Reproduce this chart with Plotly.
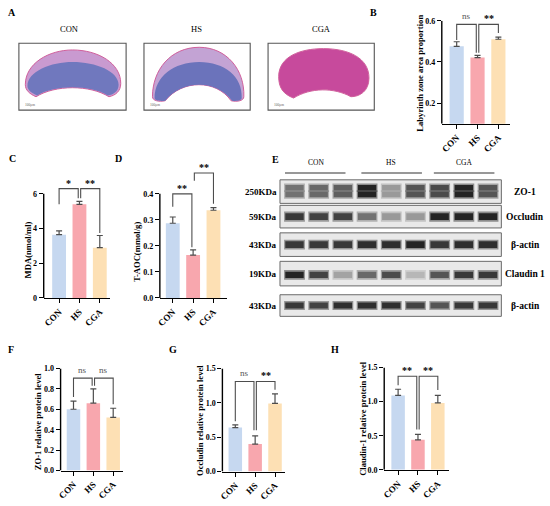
import plotly.graph_objects as go

W, H = 550, 506

groups = ["CON", "HS", "CGA"]
bar_colors = ["#c6d8f0", "#f8a7ae", "#fde0b4"]

# B  labyrinth zone area proportion
lab_mean = [0.476, 0.421, 0.510]
lab_err = [0.022, 0.011, 0.010]
# C  MDA (nmol/ml)
mda_mean = [3.65, 5.40, 2.90]
mda_err = [0.22, 0.17, 0.70]
# D  T-AOC (mmol/g)
taoc_mean = [0.287, 0.165, 0.337]
taoc_err = [0.024, 0.020, 0.010]
# F G H  relative protein level
zo1_mean = [0.60, 0.66, 0.52]
zo1_err = [0.08, 0.14, 0.09]
occ_mean = [0.64, 0.40, 0.99]
occ_err = [0.04, 0.12, 0.14]
cld_mean = [1.09, 0.44, 0.98]
cld_err = [0.09, 0.08, 0.11]

# western blot, band darkness per lane (3 lanes per group)
lanes = [1, 2, 3, 4, 5, 6, 7, 8, 9]
blot_names = ["ZO-1", "Occludin", "β-actin", "Claudin 1", "β-actin"]
blot_kda = ["250KDa", "59KDa", "43KDa", "19KDa", "43KDa"]
zo1_band = [0.55, 0.6, 0.65, 0.95, 0.35, 0.7, 0.75, 0.95, 0.7]
occ_band = [0.85, 0.8, 0.8, 0.55, 0.35, 0.35, 0.95, 0.95, 0.95]
actin1_band = [0.85, 0.85, 0.85, 0.9, 0.9, 0.95, 0.85, 0.9, 0.9]
cld_band = [0.95, 0.8, 0.3, 0.6, 0.75, 0.2, 0.7, 0.85, 0.85]
actin2_band = [0.85, 0.8, 0.9, 0.9, 0.9, 0.8, 0.7, 0.85, 0.85]

SERIF = "Liberation Serif"


def px(x):
    return x / W


def py(y):
    return 1 - y / H


def ax(n):
    s = "" if n == 1 else str(n)
    return "x" + s, "y" + s, "xaxis" + s, "yaxis" + s


fig = go.Figure()
shapes = []
annos = []
layout = {}


def text(x, y, s, size=8, bold=True, color="black", xanchor="center", yanchor="middle", angle=0):
    annos.append(dict(
        x=px(x), y=py(y), xref="paper", yref="paper", text=s, showarrow=False,
        xanchor=xanchor, yanchor=yanchor, textangle=angle,
        font=dict(family=SERIF, size=size, color=color, weight="bold" if bold else "normal"),
    ))


# ---- bar panels ----
panels = [
    dict(n=1, m=lab_mean, e=lab_err, xl=441, xr=510, c0=456, p=21, yb=122, yt=17,
         lo=0.1, top=0.6, hi=0.6, ticks=[0.2, 0.4, 0.6], fmt="%.1f",
         title="Labyrinth zone area proportion", tx=419, ty=70,
         br=[(0, 1, 0.582, 0.506, 0.445, "ns"), (1, 2, 0.582, 0.445, 0.54, "**")]),
    dict(n=2, m=mda_mean, e=mda_err, xl=40, xr=107, c0=55.5, p=20.5, yb=299.3, yt=193.3,
         lo=0, top=6, hi=6.7, ticks=[0, 2, 4, 6], fmt="%d",
         title="MDA(nmol/ml)", tx=24, ty=250,
         br=[(0, 1, 6.3, 5.4, 5.75, "*"), (1, 2, 6.3, 5.75, 3.75, "**")]),
    dict(n=3, m=taoc_mean, e=taoc_err, xl=157, xr=225, c0=170, p=20.5, yb=299.3, yt=193.3,
         lo=0, top=0.4, hi=0.5, ticks=[0, 0.1, 0.2, 0.3, 0.4], fmt="%.1f",
         title="T-AOC(mmol/g)", tx=133.5, ty=253,
         br=[(0, 1, 0.4, 0.35, 0.195, "**"), (1, 2, 0.48, 0.45, 0.362, "**")]),
    dict(n=4, m=zo1_mean, e=zo1_err, xl=57, xr=120, c0=70, p=20, yb=475, yt=371,
         lo=0, top=1.0, hi=1.0, ticks=[0, 0.2, 0.4, 0.6, 0.8, 1.0], fmt="%.1f",
         title="ZO-1 relative protein level", tx=35, ty=425,
         br=[(0, 1, 0.905, 0.72, 0.83, "ns"), (1, 2, 0.905, 0.83, 0.65, "ns")]),
    dict(n=5, m=occ_mean, e=occ_err, xl=220, xr=283, c0=233, p=20, yb=476, yt=371,
         lo=0, top=1.5, hi=1.5, ticks=[0, 0.5, 1.0, 1.5], fmt="%.1f",
         title="Occludin relative protein level", tx=198, ty=424,
         br=[(0, 1, 1.31, 0.73, 0.6, "ns"), (1, 2, 1.31, 0.6, 1.19, "**")]),
    dict(n=6, m=cld_mean, e=cld_err, xl=383, xr=448, c0=397, p=20, yb=474.3, yt=370,
         lo=0, top=1.5, hi=1.5, ticks=[0, 0.5, 1.0, 1.5], fmt="%.1f",
         title="Claudin-1 relative protein level", tx=362, ty=422,
         br=[(0, 1, 1.37, 1.24, 0.59, "**"), (1, 2, 1.37, 0.59, 1.17, "**")]),
]

for P in panels:
    xa, ya, xk, yk = ax(P["n"])
    ppu = (P["yb"] - P["yt"]) / (P["top"] - P["lo"])
    ytop_px = P["yb"] - (P["hi"] - P["lo"]) * ppu
    xr0 = -(P["c0"] - P["xl"]) / P["p"]
    xr1 = (P["xr"] - P["c0"]) / P["p"]
    layout[xk] = dict(
        domain=[px(P["xl"]), px(P["xr"])], anchor=ya, range=[xr0, xr1],
        tickvals=[0, 1, 2], ticktext=groups, tickangle=-45, showline=True,
        linecolor="black", linewidth=1.4, ticks="outside", ticklen=4, tickwidth=1.3,
        tickcolor="black", showgrid=False, zeroline=False, fixedrange=True,
        tickfont=dict(family=SERIF, size=9, color="black", weight="bold"),
    )
    layout[yk] = dict(
        domain=[py(P["yb"]), py(ytop_px)], anchor=xa, range=[P["lo"], P["hi"]],
        tickvals=P["ticks"], ticktext=[P["fmt"] % t for t in P["ticks"]],
        showline=False, ticks="outside", ticklen=4, tickwidth=1.3, tickcolor="black",
        showgrid=False, zeroline=False, fixedrange=True,
        tickfont=dict(family=SERIF, size=8, color="black", weight="bold"),
    )
    fig.add_trace(go.Bar(
        x=[0, 1, 2], y=P["m"], width=0.68, marker=dict(color=bar_colors, line=dict(width=0)),
        error_y=dict(type="data", symmetric=False, array=P["e"], arrayminus=[0, 0, 0],
                     color="#4d4d4d", thickness=1.2, width=3),
        xaxis=xa, yaxis=ya, showlegend=False, hoverinfo="skip",
    ))
    # y axis line only up to the top tick
    shapes.append(dict(type="line", xref=f"{xa} domain", yref=ya, x0=0, x1=0,
                       y0=P["lo"], y1=P["top"], line=dict(color="black", width=1.4)))
    for i, j, top, li, lj, lab in P["br"]:
        gap = 0.06
        a = i + (gap if i == 1 else 0)
        b = j - (gap if j == 1 else 0)
        fig.add_trace(go.Scatter(
            x=[a, a, b, b], y=[li, top, top, lj], mode="lines",
            line=dict(color="#4d4d4d", width=1.1), xaxis=xa, yaxis=ya,
            showlegend=False, hoverinfo="skip",
        ))
        ns = lab == "ns"
        annos.append(dict(
            x=(a + b) / 2, y=top, xref=xa, yref=ya, text=lab, showarrow=False,
            yanchor="bottom", yshift=1 if ns else -2,
            font=dict(family=SERIF, size=9 if ns else 10,
                      color="#555555" if ns else "black",
                      weight="normal" if ns else "bold"),
        ))
    text(P["tx"], P["ty"], P["title"], size=8.6, angle=-90)

# ---- western blots ----
blots = [
    (zo1_band, 179, 203, [0.66, 0.38], 0.24),
    (occ_band, 205, 228, [0.5], 0.3),
    (actin1_band, 233, 257, [0.5], 0.28),
    (cld_band, 262, 287, [0.45], 0.26),
    (actin2_band, 296, 318, [0.5], 0.28),
]
for k, (band, y0, y1, centers, th) in enumerate(blots):
    xa, ya, xk, yk = ax(7 + k)
    layout[xk] = dict(domain=[px(278), px(501)], anchor=ya, range=[0.4, 9.55],
                      visible=False, fixedrange=True)
    layout[yk] = dict(domain=[py(y1), py(y0)], anchor=xa, range=[0, 1],
                      visible=False, fixedrange=True)
    shapes.append(dict(type="rect", xref="paper", yref="paper", x0=px(278), x1=px(501),
                       y0=py(y1), y1=py(y0), fillcolor="#e9e9e9",
                       line=dict(color="#6a6a6a", width=1), layer="below"))
    greys = [f"rgb({int(222 - 195 * v)},{int(222 - 195 * v)},{int(222 - 195 * v)})" for v in band]
    soft = [f"rgba({int(222 - 150 * v)},{int(222 - 150 * v)},{int(222 - 150 * v)},0.6)" for v in band]
    for c in centers:
        fig.add_trace(go.Bar(x=lanes, y=[th * 1.5] * 9, base=[c - th * 0.75] * 9, width=0.86,
                             marker=dict(color=soft, line=dict(width=0)),
                             xaxis=xa, yaxis=ya, showlegend=False, hoverinfo="skip"))
        fig.add_trace(go.Bar(x=lanes, y=[th] * 9, base=[c - th / 2] * 9, width=0.76,
                             marker=dict(color=greys, line=dict(width=0)),
                             xaxis=xa, yaxis=ya, showlegend=False, hoverinfo="skip"))
    text(277, (y0 + y1) / 2, blot_kda[k], size=9, xanchor="right")
    text(525, (y0 + y1) / 2, blot_names[k], size=9.5)

# E group headings
for g, cx, x0, x1 in [("CON", 314, 283, 344), ("HS", 390, 360, 421), ("CGA", 463, 433, 494)]:
    text(cx, 161, g, size=7.5, bold=False)
    shapes.append(dict(type="line", xref="paper", yref="paper", x0=px(x0), x1=px(x1),
                       y0=py(172), y1=py(172), line=dict(color="#333333", width=1.1)))


# ---- A: tissue sections ----
def path(box, pts):
    bx0, by0, bx1, by1 = box
    bw, bh = bx1 - bx0, by1 - by0

    def P(u, v):
        return f"{px(bx0 + u * bw):.5f},{py(by0 + v * bh):.5f}"

    s = "M " + P(*pts[0])
    for seg in pts[1:]:
        s += " C " + " ".join(P(seg[q], seg[q + 1]) for q in range(0, 6, 2))
    return s + " Z"


dome_outer = [(0.06, 0.62),
              (0.06, 0.30, 0.28, 0.10, 0.50, 0.10),
              (0.74, 0.10, 0.95, 0.30, 0.95, 0.60),
              (0.95, 0.72, 0.90, 0.78, 0.84, 0.80),
              (0.66, 0.62, 0.34, 0.62, 0.16, 0.80),
              (0.10, 0.76, 0.06, 0.70, 0.06, 0.62)]
dome_inner = [(0.08, 0.64),
              (0.08, 0.42, 0.30, 0.28, 0.50, 0.28),
              (0.72, 0.28, 0.93, 0.42, 0.93, 0.62),
              (0.93, 0.72, 0.88, 0.77, 0.83, 0.78),
              (0.66, 0.62, 0.34, 0.62, 0.17, 0.78),
              (0.12, 0.75, 0.08, 0.70, 0.08, 0.64)]
arch_outer = [(0.08, 0.80),
              (0.08, 0.40, 0.25, 0.06, 0.52, 0.06),
              (0.78, 0.06, 0.95, 0.40, 0.94, 0.80),
              (0.94, 0.86, 0.88, 0.88, 0.82, 0.86),
              (0.68, 0.54, 0.36, 0.54, 0.20, 0.86),
              (0.14, 0.88, 0.08, 0.86, 0.08, 0.80)]
arch_inner = [(0.10, 0.82),
              (0.10, 0.50, 0.28, 0.28, 0.52, 0.28),
              (0.76, 0.28, 0.93, 0.50, 0.92, 0.82),
              (0.92, 0.86, 0.87, 0.87, 0.83, 0.86),
              (0.68, 0.54, 0.36, 0.54, 0.20, 0.86),
              (0.15, 0.87, 0.10, 0.86, 0.10, 0.82)]
round_outer = [(0.10, 0.50),
               (0.10, 0.20, 0.30, 0.08, 0.52, 0.08),
               (0.76, 0.08, 0.95, 0.22, 0.95, 0.52),
               (0.95, 0.72, 0.86, 0.80, 0.78, 0.80),
               (0.62, 0.66, 0.40, 0.66, 0.24, 0.82),
               (0.14, 0.76, 0.10, 0.66, 0.10, 0.50)]

sections = [
    ("CON", (15, 40, 123, 108), 65, dome_outer, dome_inner, "#c99ad0", "#7078be"),
    ("HS", (141, 40, 248, 108), 194, arch_outer, arch_inner, "#c3a3d4", "#6b73bb"),
    ("CGA", (266, 40, 373, 108), 320, round_outer, None, "#c74a9c", None),
]
for g, box, cx, outer, inner, c_out, c_in in sections:
    shapes.append(dict(type="rect", xref="paper", yref="paper", x0=px(box[0]), x1=px(box[2]),
                       y0=py(box[3]), y1=py(box[1]), fillcolor="white",
                       line=dict(color="#555555", width=1.1)))
    shapes.append(dict(type="path", xref="paper", yref="paper", path=path(box, outer),
                       fillcolor=c_out, line=dict(color="#d0609c", width=1)))
    if inner:
        shapes.append(dict(type="path", xref="paper", yref="paper", path=path(box, inner),
                           fillcolor=c_in, line=dict(width=0)))
    text(cx, 25, g, size=8.5, bold=False)
    text(box[0] + 4, box[3] - 5, "100μm", size=3.5, bold=False, color="#666666", xanchor="left")

# panel letters
for L, x, y in [("A", 8, 9), ("B", 372, 9), ("C", 9, 157), ("D", 115, 157), ("E", 273, 158),
                ("F", 7, 352), ("G", 170, 352), ("H", 333, 352)]:
    text(x, y, L, size=10)

fig.update_layout(
    width=W, height=H, margin=dict(l=0, r=0, t=0, b=0), autosize=False,
    paper_bgcolor="white", plot_bgcolor="rgba(0,0,0,0)", showlegend=False,
    barmode="overlay", shapes=shapes, annotations=annos, hovermode=False, **layout,
)
fig.write_html("out.html", config={"displayModeBar": False},
               post_script="document.body.style.margin = '0';")
